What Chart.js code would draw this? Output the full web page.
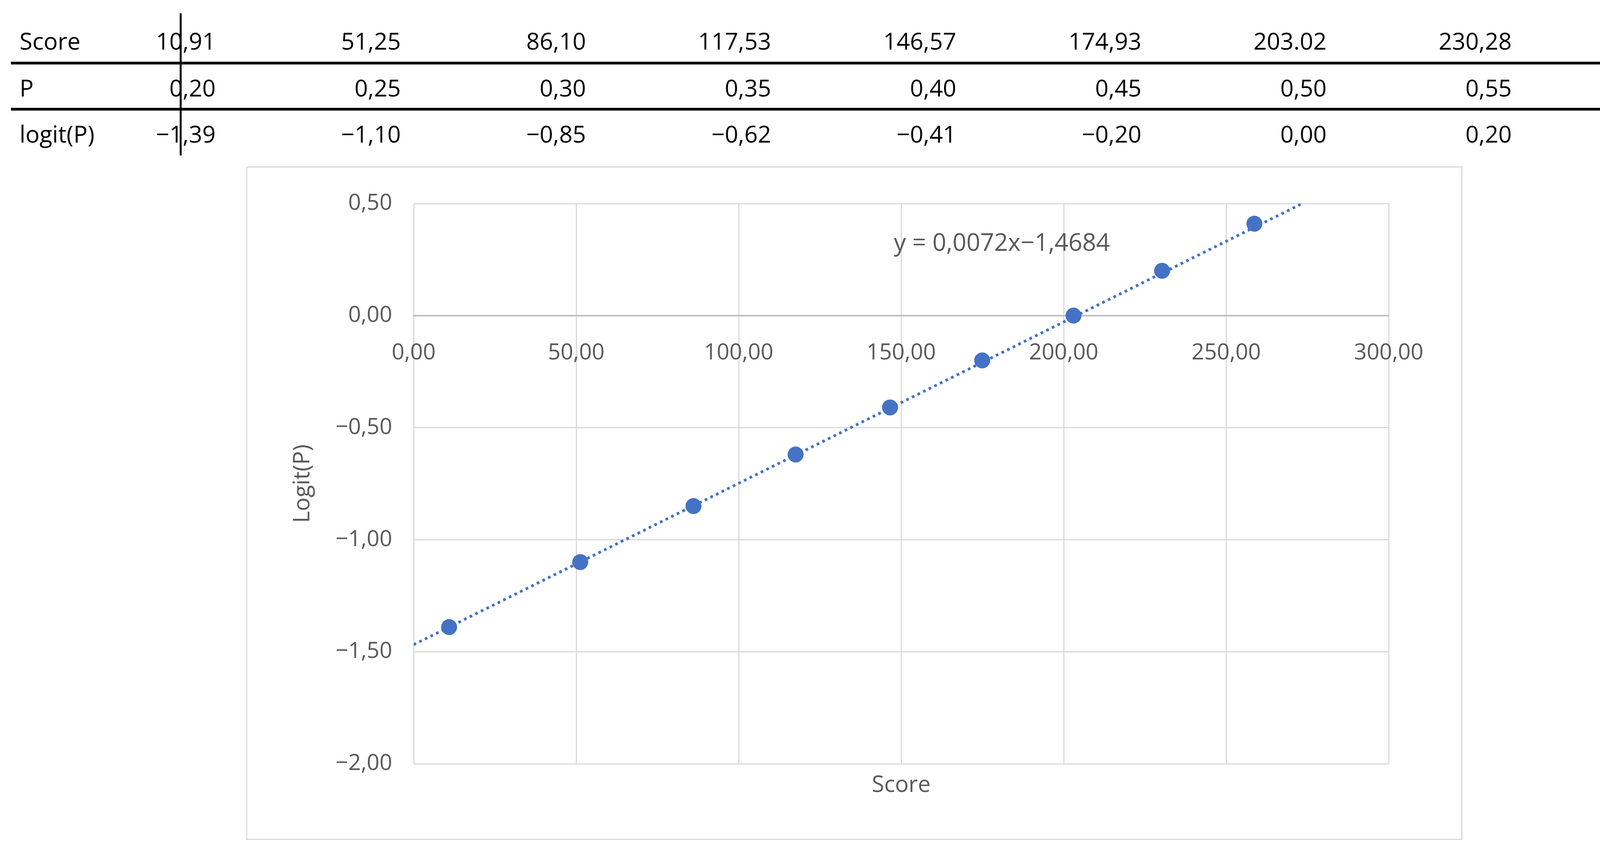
<!DOCTYPE html>
<html>
<head>
<meta charset="utf-8">
<script src="https://cdn.jsdelivr.net/npm/chart.js@4"></script>
<style>
  body { margin: 0; width: 4370px; height: 2168px; background: #fff; position: relative; overflow: hidden; font-family: "Open Sans", "Noto Sans", sans-serif; }
  .cell { position: absolute; font-size: 60px; color: #000; line-height: 1; }
  .hline { position: absolute; left: 28px; width: 4342px; height: 7px; background: #000; }
  .vline { position: absolute; left: 460px; top: 34px; width: 5px; height: 364px; background: #000; }
  #box { position: absolute; left: 630px; top: 426px; width: 3108px; height: 1718px; border: 3px solid #d9d9d9; }
</style>
</head>
<body>
<div class="vline"></div>
<div class="hline" style="top:158px"></div>
<div class="hline" style="top:276px"></div>
<div id="table"></div>
<div id="box"><canvas id="chart"></canvas></div>
<script>
const scores = [10.91, 51.25, 86.10, 117.53, 146.57, 174.93, 203.02, 230.28, 258.68]
const probs = [0.20, 0.25, 0.30, 0.35, 0.40, 0.45, 0.50, 0.55, 0.60]
const logits = [-1.39, -1.10, -0.85, -0.62, -0.41, -0.20, 0.00, 0.20, 0.41]
const scoreLabels = ['10,91', '51,25', '86,10', '117,53', '146,57', '174,93', '203.02', '230,28', '258,68']
const slope = 0.0072
const intercept = -1.4684
const trendX = [0, 273.4]

function fmt(v) {
  let s = Math.abs(v).toFixed(2).replace('.', ',')
  return (v < -0.0001 ? '\u2212' : '') + s
}

// table above the chart
let rows = [
  ['Score', scoreLabels],
  ['P', probs.map(fmt)],
  ['logit(P)', logits.map(fmt)]
]
let tbl = document.getElementById('table')
let rowY = [74, 194, 312]
for (let r = 0; r < rows.length; r++) {
  let d = document.createElement('div')
  d.className = 'cell'
  d.style.left = '50px'
  d.style.top = rowY[r] + 'px'
  d.textContent = rows[r][0]
  tbl.appendChild(d)
  for (let i = 0; i < rows[r][1].length; i++) {
    let c = document.createElement('div')
    c.className = 'cell'
    c.style.right = (4370 - (552 + 474 * i)) + 'px'
    c.style.top = rowY[r] + 'px'
    c.textContent = rows[r][1][i]
    tbl.appendChild(c)
  }
}

const labelsPlugin = {
  id: 'labels',
  afterDraw(chart) {
    let ctx = chart.ctx
    let a = chart.chartArea
    let x = chart.scales.x, y = chart.scales.y
    ctx.save()
    ctx.fillStyle = '#595959'
    ctx.font = '62px "Open Sans"'
    ctx.textAlign = 'center'
    ctx.textBaseline = 'middle'
    ctx.fillText('y = 0,0072x\u22121,4684', x.getPixelForValue(181), y.getPixelForValue(0.32))
    ctx.font = '58px "Open Sans"'
    ctx.fillText('Score', (a.left + a.right) / 2, a.bottom + 55)
    ctx.translate(142, y.getPixelForValue(-0.75))
    ctx.rotate(-Math.PI / 2)
    ctx.fillText('Logit(P)', 0, 0)
    ctx.restore()
  }
}

new Chart(document.getElementById('chart'), {
  type: 'scatter',
  data: {
    datasets: [{
      data: scores.map((s, i) => ({ x: s, y: logits[i] })),
      backgroundColor: '#4472C4',
      borderColor: '#4472C4',
      pointRadius: 20,
      pointHoverRadius: 20,
      order: 1
    }, {
      type: 'line',
      data: trendX.map(v => ({ x: v, y: slope * v + intercept })),
      borderColor: '#4472C4',
      borderWidth: 7,
      borderDash: [7, 9],
      pointRadius: 0,
      fill: false,
      order: 2
    }]
  },
  plugins: [labelsPlugin],
  options: {
    devicePixelRatio: 1,
    responsive: true,
    maintainAspectRatio: false,
    animation: false,
    layout: { padding: { left: 0, right: 186, top: 92, bottom: 192 } },
    plugins: { legend: { display: false }, tooltip: { enabled: false } },
    scales: {
      x: {
        type: 'linear',
        position: { y: 0 },
        min: 0, max: 300,
        ticks: { stepSize: 50, callback: v => fmt(v), color: '#595959', font: { size: 57, family: 'Open Sans' }, padding: 62, maxRotation: 0 },
        grid: { color: '#d9d9d9', lineWidth: 3, drawTicks: false },
        border: { color: '#bfbfbf', width: 4 }
      },
      y: {
        min: -2, max: 0.5,
        ticks: { stepSize: 0.5, callback: v => fmt(v), color: '#595959', font: { size: 57, family: 'Open Sans' }, padding: 55 },
        grid: { color: '#d9d9d9', lineWidth: 3, drawTicks: false },
        border: { display: false },
        afterFit(s) { s.width = 426 }
      }
    }
  }
})
</script>
</body>
</html>
